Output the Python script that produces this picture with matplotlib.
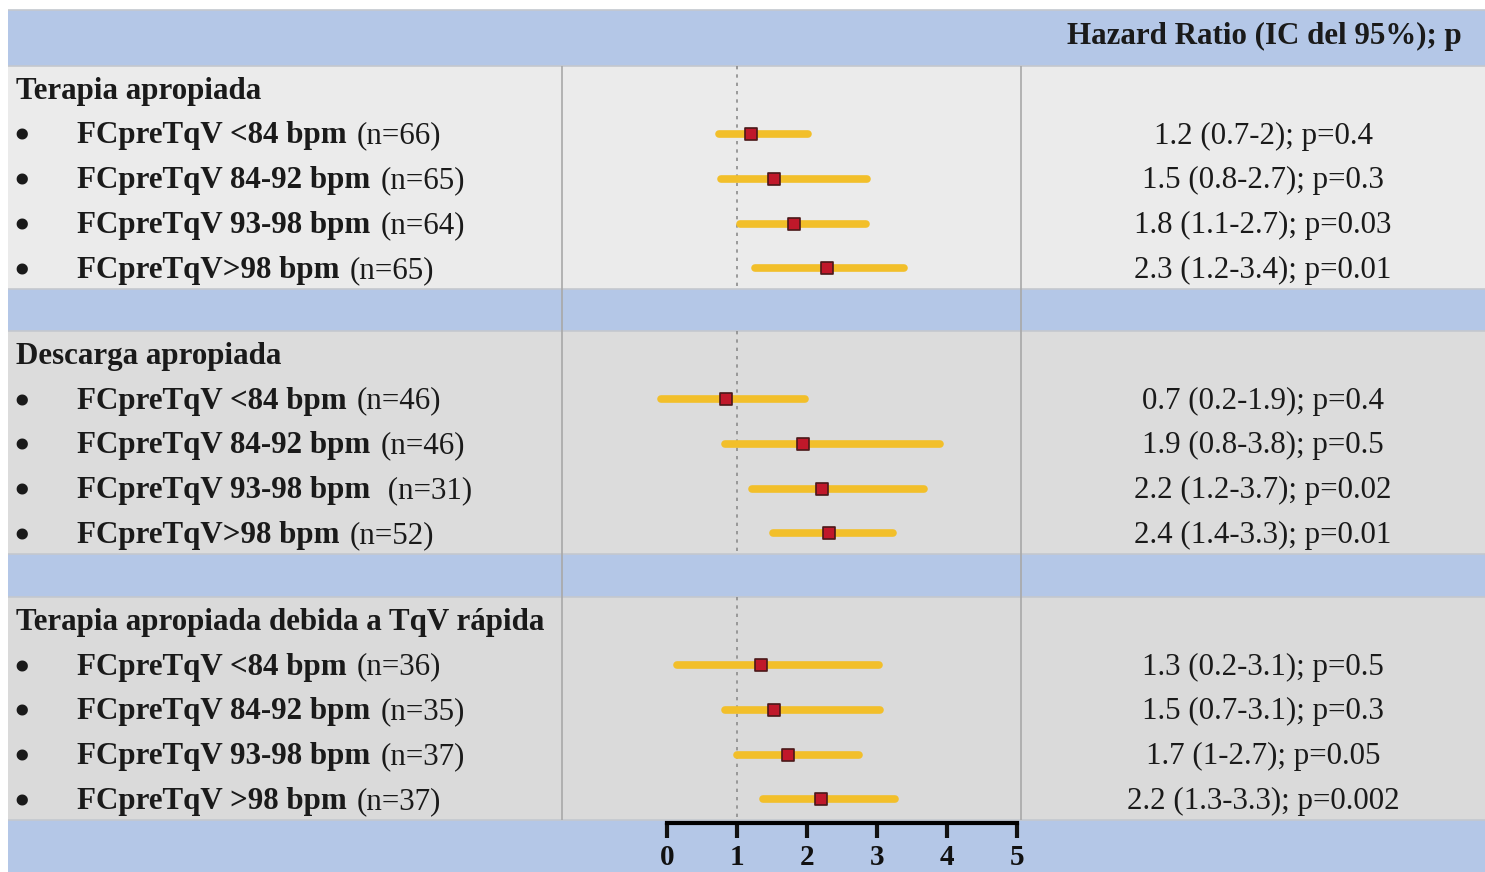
import matplotlib
matplotlib.use("Agg")
import matplotlib.pyplot as plt
from matplotlib.patches import Rectangle

plt.rcParams['font.family'] = ['Liberation Serif', 'DejaVu Serif']

# groups and rows
groups = ["Terapia apropiada", "Descarga apropiada", "Terapia apropiada debida a TqV rápida"]
row_labels = [
    ["FCpreTqV <84 bpm", "FCpreTqV 84-92 bpm", "FCpreTqV 93-98 bpm", "FCpreTqV>98 bpm"],
    ["FCpreTqV <84 bpm", "FCpreTqV 84-92 bpm", "FCpreTqV 93-98 bpm", "FCpreTqV>98 bpm"],
    ["FCpreTqV <84 bpm", "FCpreTqV 84-92 bpm", "FCpreTqV 93-98 bpm", "FCpreTqV >98 bpm"],
]
row_n = [
    ["(n=66)", "(n=65)", "(n=64)", "(n=65)"],
    ["(n=46)", "(n=46)", " (n=31)", "(n=52)"],
    ["(n=36)", "(n=35)", "(n=37)", "(n=37)"],
]
hr_text = [
    ["1.2 (0.7-2); p=0.4", "1.5 (0.8-2.7); p=0.3", "1.8 (1.1-2.7); p=0.03", "2.3 (1.2-3.4); p=0.01"],
    ["0.7 (0.2-1.9); p=0.4", "1.9 (0.8-3.8); p=0.5", "2.2 (1.2-3.7); p=0.02", "2.4 (1.4-3.3); p=0.01"],
    ["1.3 (0.2-3.1); p=0.5", "1.5 (0.7-3.1); p=0.3", "1.7 (1-2.7); p=0.05", "2.2 (1.3-3.3); p=0.002"],
]
# values as drawn in the plot
hr_point = [
    [1.20, 1.53, 1.81, 2.28],
    [0.84, 1.94, 2.21, 2.31],
    [1.34, 1.53, 1.73, 2.20],
]
ci_low = [
    [0.74, 0.77, 1.04, 1.26],
    [-0.09, 0.83, 1.21, 1.52],
    [0.14, 0.83, 1.00, 1.37],
]
ci_high = [
    [2.01, 2.86, 2.84, 3.39],
    [1.97, 3.90, 3.67, 3.23],
    [3.03, 3.04, 2.74, 3.26],
]
x_ticks = [0, 1, 2, 3, 4, 5]

W, H = 1485, 872
BLUE = "#b4c7e7"
GRAYS = ["#ebebeb", "#dcdcdc", "#dadada"]
GOLD = "#f2bf2a"
RED = "#c0182a"
FS = 22.3
INK = "#1a1a1a"

fig = plt.figure(figsize=(W / 100, H / 100), dpi=100)
fig.patch.set_facecolor("white")

# background / table layer in pixel coordinates
bg = fig.add_axes([0, 0, 1, 1])
bg.set_xlim(0, W)
bg.set_ylim(H, 0)
bg.axis("off")

left, right = 8, W
col1, col2 = 562, 1021
blk_top = [66, 331, 597]
blk_h = 223

bg.add_patch(Rectangle((left, 10), right - left, 56, color=BLUE, lw=0))
for i, y0 in enumerate(blk_top):
    bg.add_patch(Rectangle((left, y0), right - left, blk_h, color=GRAYS[i], lw=0))
    y_end = blk_top[i + 1] if i < 2 else H
    bg.add_patch(Rectangle((left, y0 + blk_h), right - left, y_end - y0 - blk_h, color=BLUE, lw=0))
    bg.hlines([y0, y0 + blk_h], left, right, color="#c4c8ce", lw=1.2)
bg.hlines(10, left, right, color="#c4c8ce", lw=1.2)
bg.vlines([col1, col2], 66, 820, color="#a8a8a8", lw=1.2)

bg.text(1462, 36, "Hazard Ratio (IC del 95%); p", ha="right", va="center",
        fontsize=FS, fontweight="bold", color=INK)

renderer = fig.canvas.get_renderer()
for g, y0 in enumerate(blk_top):
    bg.text(16, y0 + 25, groups[g], ha="left", va="center", fontsize=FS,
            fontweight="bold", color=INK)
    for r in range(4):
        y = y0 + 70 + r * 44.8
        bg.text(22, y + 3, "\u2022", ha="center", va="center", fontsize=30,
                fontweight="bold", color=INK)
        t = bg.text(77, y, row_labels[g][r], ha="left", va="center", fontsize=FS,
                    fontweight="bold", color=INK)
        bb = t.get_window_extent(renderer)
        x_end = bg.transData.inverted().transform((bb.x1, 0))[0]
        bg.text(x_end + 10, y, row_n[g][r], ha="left", va="center", fontsize=FS,
                color=INK)
        bg.text(1263, y, hr_text[g][r], ha="center", va="center", fontsize=FS,
                color=INK)

# forest plot layer: x in hazard ratio units
ax = fig.add_axes([col1 / W, 0, (col2 - col1) / W, 1])
ax.set_xlim(-1.5, 5.057)
ax.set_ylim(H, 0)
ax.patch.set_alpha(0)
for g, y0 in enumerate(blk_top):
    ax.vlines(1, y0, y0 + blk_h, color="#8c8c8c", lw=1.2, linestyles=(0, (2, 3)))
    ys = [y0 + 68 + r * 44.8 for r in range(4)]
    ax.hlines(ys, ci_low[g], ci_high[g], color=GOLD, lw=5.5, capstyle="round")
    ax.scatter(hr_point[g], ys, marker="s", s=64, color=RED, edgecolor="#4a1818",
               linewidth=1.2, zorder=3)

for s in ["top", "left", "right"]:
    ax.spines[s].set_visible(False)
ax.spines["bottom"].set_position(("data", 823))
ax.spines["bottom"].set_bounds(0, 5)
ax.spines["bottom"].set_linewidth(3)
ax.set_yticks([])
ax.set_xticks(x_ticks)
ax.set_xticklabels([str(v) for v in x_ticks], fontsize=21, fontweight="bold")
ax.tick_params(axis="x", direction="out", length=11, width=3, pad=4, colors="#111111")

fig.savefig("out.png", dpi=100)
